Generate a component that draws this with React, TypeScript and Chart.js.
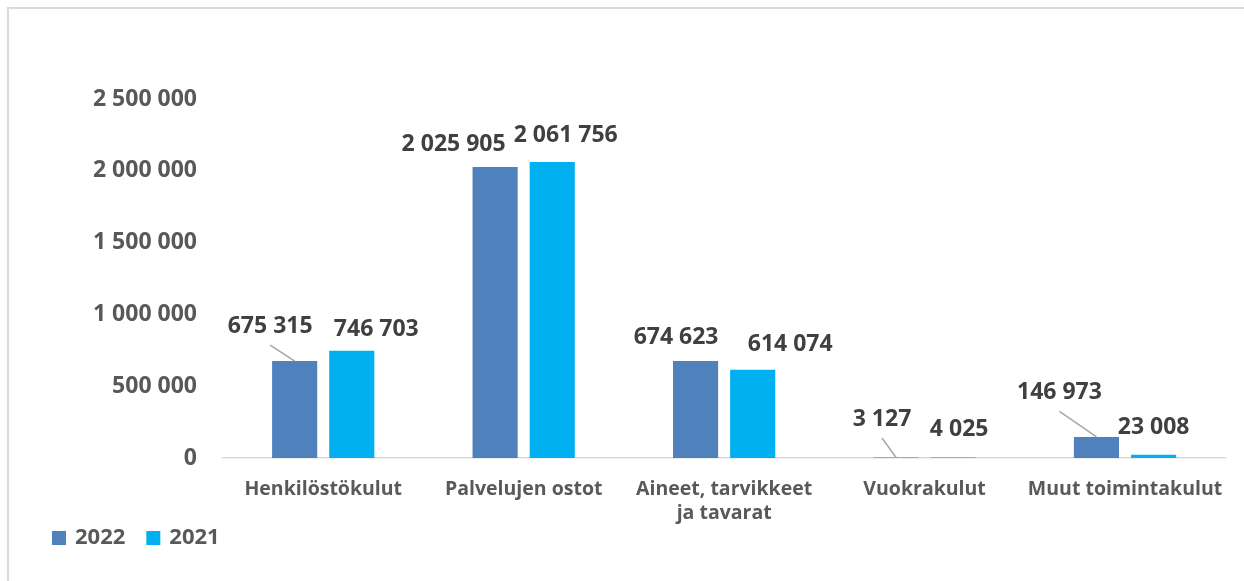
import React, { useEffect, useRef } from "react";
import { Chart, registerables } from "chart.js";

Chart.register(...registerables);

const categories: (string | string[])[] = [
  "Henkilöstökulut",
  "Palvelujen ostot",
  ["Aineet, tarvikkeet", "ja tavarat"],
  "Vuokrakulut",
  "Muut toimintakulut",
];
const values2022 = [675315, 2025905, 674623, 3127, 146973];
const values2021 = [746703, 2061756, 614074, 4025, 23008];
const yTicks = [0, 500000, 1000000, 1500000, 2000000, 2500000];
const seriesNames = ["2022", "2021"];
const seriesColors = ["#4f81bd", "#00b0f0"];

// label placement (pixel offsets from bar top centre) and leader-line flags
const labelOffsets: [number, number, boolean][][] = [
  [[-24.5, -34.5, true], [-41.5, -23, false], [-19.5, -23.5, false], [-14, -38, true], [-37, -44, true]],
  [[24.5, -21.5, false], [13.5, -26.5, false], [37.5, -25, false], [6, -28, false], [0, -27.5, false]],
];

const FONT = "'Open Sans', 'Noto Sans', sans-serif";
const fmt = (n: number) => String(n).replace(/\B(?=(\d{3})+(?!\d))/g, " ");

const frameAndLabels = {
  id: "valueLabels",
  beforeDraw(chart: any) {
    const ctx = chart.ctx;
    ctx.save();
    ctx.fillStyle = "#ffffff";
    ctx.fillRect(0, 0, chart.width, chart.height);
    ctx.fillStyle = "#dadada";
    ctx.fillRect(7, 7, chart.width - 7, 2);
    ctx.fillRect(7, 7, 2, chart.height - 7);
    ctx.restore();
  },
  afterDatasetsDraw(chart: any) {
    const ctx = chart.ctx;
    ctx.save();
    ctx.font = `bold 23px ${FONT}`;
    ctx.fillStyle = "#404040";
    ctx.textAlign = "center";
    ctx.textBaseline = "middle";
    chart.data.datasets.forEach((ds: any, di: number) => {
      const meta = chart.getDatasetMeta(di);
      meta.data.forEach((el: any, i: number) => {
        const [dx, dy, leader] = labelOffsets[di][i];
        const lx = el.x + dx;
        const ly = el.y + dy;
        if (leader) {
          ctx.strokeStyle = "#a6a6a6";
          ctx.lineWidth = 1.5;
          ctx.beginPath();
          ctx.moveTo(lx, ly + 18.5);
          ctx.lineTo(el.x, el.y);
          ctx.stroke();
        }
        ctx.fillText(fmt(ds.data[i]), lx, ly);
      });
    });
    ctx.restore();
  },
};

const legendPlugin = {
  id: "customLegend",
  afterDraw(chart: any) {
    const ctx = chart.ctx;
    ctx.save();
    ctx.font = `bold 22px ${FONT}`;
    ctx.textBaseline = "middle";
    ctx.textAlign = "left";
    let x = 52;
    const y = 538;
    chart.data.datasets.forEach((ds: any) => {
      ctx.fillStyle = ds.backgroundColor;
      ctx.fillRect(x, y - 7, 14, 14);
      x += 23;
      ctx.fillStyle = "#595959";
      ctx.fillText(ds.label, x, y);
      x += ctx.measureText(ds.label).width + 21;
    });
    ctx.restore();
  },
};

export default function App() {
  const ref = useRef<HTMLCanvasElement>(null);
  useEffect(() => {
    if (!ref.current) return;
    const chart = new Chart(ref.current, {
      type: "bar",
      data: {
        labels: categories,
        datasets: [
          { label: seriesNames[0], data: values2022, backgroundColor: seriesColors[0] },
          { label: seriesNames[1], data: values2021, backgroundColor: seriesColors[1] },
        ],
      },
      options: {
        animation: false,
        responsive: false,
        maintainAspectRatio: false,
        layout: { padding: { top: 99, right: 18, bottom: 0, left: 0 } },
        datasets: { bar: { categoryPercentage: 0.57, barPercentage: 0.79 } },
        plugins: { legend: { display: false }, tooltip: { enabled: false } },
        scales: {
          x: {
            grid: { display: false, drawTicks: false },
            border: { display: true, color: "#d9d9d9", width: 1.5 },
            ticks: {
              color: "#595959",
              font: { family: FONT, size: 19.5, weight: "bold" },
              padding: 20,
              maxRotation: 0,
              autoSkip: false,
            },
            afterFit(scale: any) {
              scale.height = 123;
            },
          },
          y: {
            min: 0,
            max: 2500000,
            afterBuildTicks(scale: any) {
              scale.ticks = yTicks.map((v) => ({ value: v }));
            },
            grid: { display: false, drawTicks: false },
            border: { display: false },
            ticks: {
              color: "#595959",
              font: { family: FONT, size: 23, weight: "bold" },
              padding: 26,
              callback: (v: any) => fmt(Number(v)),
            },
            afterFit(scale: any) {
              scale.width = 223;
            },
          },
        },
      },
      plugins: [frameAndLabels, legendPlugin],
    });
    return () => chart.destroy();
  }, []);
  return (
    <div style={{ position: "absolute", left: 0, top: 0, width: 1244, height: 581 }}>
      <canvas ref={ref} width={1244} height={581} style={{ display: "block" }} />
    </div>
  );
}
